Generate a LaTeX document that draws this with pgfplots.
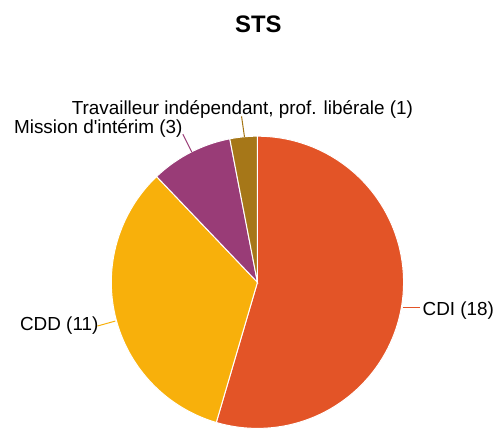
\documentclass[border=0pt]{standalone}
\usepackage{pgfplots}
\usepackage{pgfplotstable}
\usepackage{fontspec}
\setmainfont{Liberation Sans}
\newfontfamily\nomap{Liberation Sans}
\pgfplotsset{compat=1.18}
\definecolor{cCDI}{HTML}{E35427}
\definecolor{cCDD}{HTML}{F8B00B}
\definecolor{cMIS}{HTML}{993C77}
\definecolor{cTRA}{HTML}{A67718}
\pgfplotstableread{
label value
CDI 18
CDD 11
Mission 3
Travailleur 1
}\piedata
\pgfplotstablegetelem{0}{value}\of\piedata \let\va\pgfplotsretval
\pgfplotstablegetelem{1}{value}\of\piedata \let\vb\pgfplotsretval
\pgfplotstablegetelem{2}{value}\of\piedata \let\vc\pgfplotsretval
\pgfplotstablegetelem{3}{value}\of\piedata \let\vd\pgfplotsretval
\pgfmathsetmacro{\tot}{\va+\vb+\vc+\vd}
\pgfmathsetmacro{\aA}{0}
\pgfmathsetmacro{\aB}{360*\va/\tot}
\pgfmathsetmacro{\aC}{360*(\va+\vb)/\tot}
\pgfmathsetmacro{\aD}{360*(\va+\vb+\vc)/\tot}
\pgfmathsetmacro{\aE}{360}
\def\cx{259}
\def\cy{150}
\def\rr{147}
\newcommand{\slice}[3]{%
\addplot[fill=#3, draw=white, line width=1pt, domain=#1:#2, samples=90, variable=\t]
  ({\cx+\rr*sin(\t)},{\cy+\rr*cos(\t)}) -- (axis cs:\cx,\cy) -- cycle;
}
\begin{document}
\begin{tikzpicture}
\begin{axis}[
  width=494pt, height=434pt, scale only axis,
  xmin=0, xmax=494, ymin=0, ymax=434,
  hide axis, clip=false,
]
\path (axis cs:0,0) rectangle (axis cs:494,434);
\slice{\aA}{\aB}{cCDI}
\slice{\aB}{\aC}{cCDD}
\slice{\aC}{\aD}{cMIS}
\slice{\aD}{\aE}{cTRA}
% leader lines
\draw[cCDI, line width=1pt] (axis cs:405,125) -- (axis cs:423,125);
\draw[cCDD, line width=1pt] (axis cs:98,106) -- (axis cs:116,111);
\draw[cMIS, line width=1pt] (axis cs:184,299) -- (axis cs:193,281);
\draw[cTRA, line width=1pt] (axis cs:243,317) -- (axis cs:246,296);
% labels
\node[anchor=base west, inner sep=0pt, font=\fontsize{19}{22}\selectfont] at (axis cs:425,117) {CDI (18)};
\node[anchor=base west, inner sep=0pt, font=\fontsize{19}{22}\selectfont] at (axis cs:20,101) {CDD (11)};
\node[anchor=base west, inner sep=0pt, font=\fontsize{19}{22}\selectfont] at (axis cs:14,300) {Mission d{\nomap'}intérim (3)};
\node[anchor=base west, inner sep=0pt, font=\fontsize{19}{22}\selectfont] at (axis cs:72,319) {Travailleur indépendant, prof. libérale (1)};
\node[anchor=base, inner sep=0pt, font=\fontsize{24}{28}\selectfont\bfseries] at (axis cs:260,401) {STS};
\end{axis}
\end{tikzpicture}
\end{document}
